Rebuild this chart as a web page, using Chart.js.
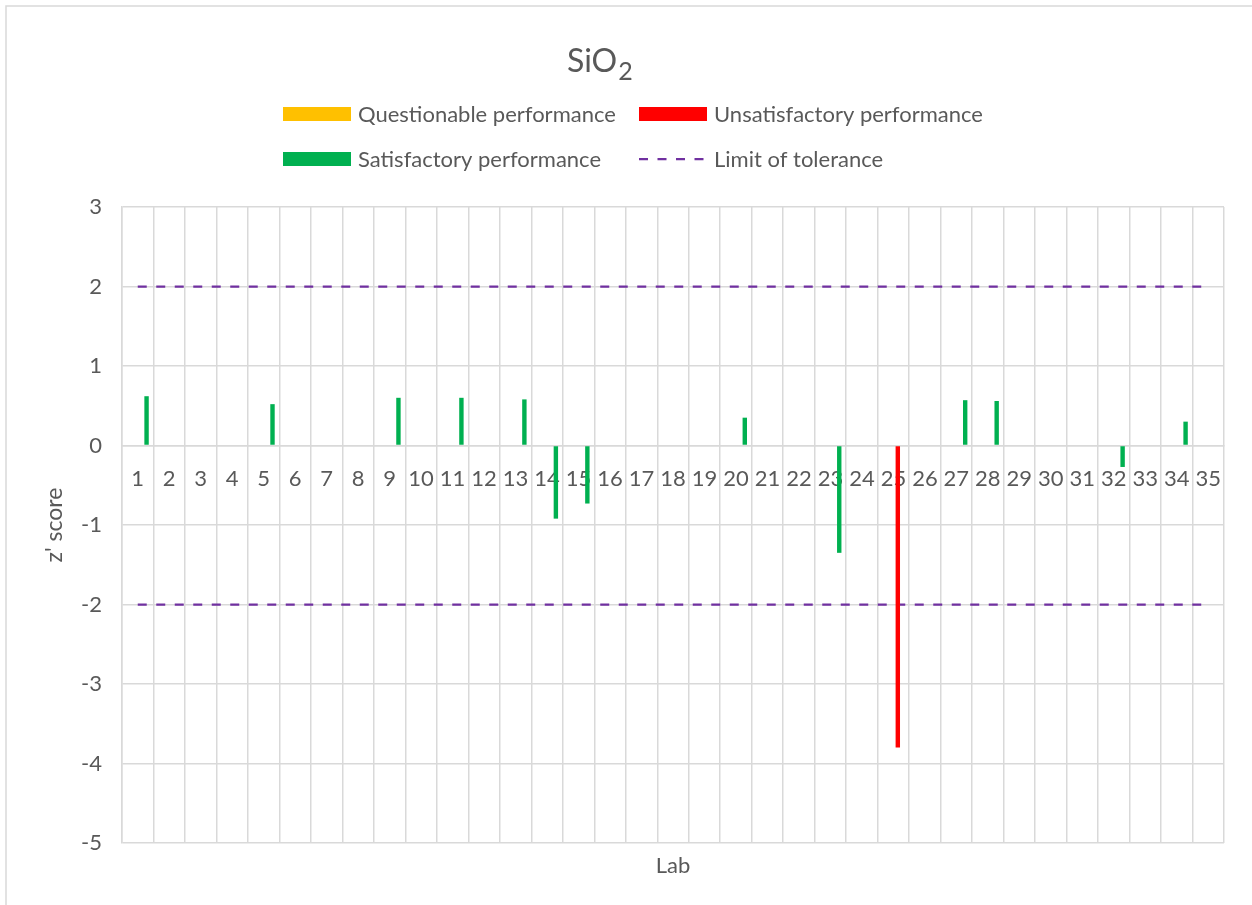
<!DOCTYPE html>
<html>
<head>
<meta charset="utf-8">
<title>SiO2 z' scores</title>
<script src="https://cdn.jsdelivr.net/npm/chart.js@4.4.0/dist/chart.umd.min.js"></script>
<style>
  body { margin: 0; background: #fff; }
  #wrap { width: 1252px; height: 905px; }
</style>
</head>
<body>
<div id="wrap"><canvas id="myChart" width="1252" height="905"></canvas></div>
<script>
// lab numbers on the x axis
var labs = ['1','2','3','4','5','6','7','8','9','10','11','12','13','14','15','16','17','18',
            '19','20','21','22','23','24','25','26','27','28','29','30','31','32','33','34','35'];

// z' scores, one per lab (null = no bar in that series)
var questionable = [null,null,null,null,null,null,null,null,null,null,null,null,null,null,null,null,null,null,
                    null,null,null,null,null,null,null,null,null,null,null,null,null,null,null,null,null];
var unsatisfactory = [null,null,null,null,null,null,null,null,null,null,null,null,null,null,null,null,null,null,
                      null,null,null,null,null,null,-3.80,null,null,null,null,null,null,null,null,null,null];
var satisfactory = [0.62,null,null,null,0.52,null,null,null,0.60,null,0.60,null,0.58,-0.92,-0.73,null,null,null,
                    null,0.35,null,null,-1.35,null,null,null,0.57,0.56,null,null,null,-0.27,null,0.30,null];
var upperLimit = [2,2,2,2,2,2,2,2,2,2,2,2,2,2,2,2,2,2,2,2,2,2,2,2,2,2,2,2,2,2,2,2,2,2,2];
var lowerLimit = [-2,-2,-2,-2,-2,-2,-2,-2,-2,-2,-2,-2,-2,-2,-2,-2,-2,-2,-2,-2,-2,-2,-2,-2,-2,-2,-2,-2,-2,-2,-2,-2,-2,-2,-2];

var yTicks = [3, 2, 1, 0, -1, -2, -3, -4, -5];

var FONT = 'Lato';
var TEXT = '#595959';
var GRID = '#d9d9d9';
var LIMIT = '#7030A0';

document.addEventListener("DOMContentLoaded", main);

function main(){
  renderChart();
}

// frame, title, legend and axis titles laid out like the Excel original
var excelLook = {
  id: 'excelLook',
  beforeDraw: function(chart){
    var ctx = chart.ctx;
    ctx.save();
    ctx.strokeStyle = GRID;
    ctx.lineWidth = 1.5;
    ctx.beginPath();
    ctx.moveTo(6, 905);
    ctx.lineTo(6, 6);
    ctx.lineTo(1252, 6);
    ctx.stroke();
    ctx.restore();
  },
  afterDraw: function(chart){
    var ctx = chart.ctx;
    var area = chart.chartArea;
    ctx.save();
    ctx.fillStyle = TEXT;

    // title SiO2 with subscript
    ctx.textBaseline = 'alphabetic';
    ctx.textAlign = 'left';
    ctx.font = '32px ' + FONT;
    ctx.fillText('SiO', 567, 72);
    var w = ctx.measureText('SiO').width;
    ctx.font = '25px ' + FONT;
    ctx.fillText('2', 567 + w + 1, 80);

    // legend, two columns
    var ds = chart.data.datasets;
    var items = [ds[2], ds[3], ds[4], ds[5]];
    var cols = [283, 639];
    var rows = [114, 159];
    ctx.font = '22px ' + FONT;
    ctx.textBaseline = 'middle';
    for (var i = 0; i < items.length; i++) {
      var x = cols[i % 2];
      var y = rows[Math.floor(i / 2)];
      if (items[i].type === 'line') {
        ctx.save();
        ctx.strokeStyle = items[i].borderColor;
        ctx.lineWidth = items[i].borderWidth;
        ctx.setLineDash(items[i].borderDash);
        ctx.beginPath();
        ctx.moveTo(x, y);
        ctx.lineTo(x + 67, y);
        ctx.stroke();
        ctx.restore();
      } else {
        ctx.fillStyle = items[i].backgroundColor;
        ctx.fillRect(x, y - 7, 68, 14);
      }
      ctx.fillStyle = TEXT;
      ctx.fillText(items[i].label, x + 75, y + 1);
    }

    // axis titles
    ctx.textAlign = 'center';
    ctx.fillText('Lab', (area.left + area.right) / 2, 866);
    ctx.translate(55, (area.top + area.bottom) / 2);
    ctx.rotate(-Math.PI / 2);
    ctx.font = '23px ' + FONT;
    ctx.fillText("z' score", 0, 0);
    ctx.restore();
  }
};

function renderChart() {
  var ctx = document.getElementById("myChart").getContext('2d');
  var myChart = new Chart(ctx, {
    type: 'bar',
    data: {
      labels: labs,
      datasets: [
        // two empty series that only hold their place in each group, as in the workbook
        { label: '', data: [], backgroundColor: 'rgba(0,0,0,0)', order: 1 },
        { label: '', data: [], backgroundColor: 'rgba(0,0,0,0)', order: 1 },
        { label: 'Questionable performance', data: questionable, backgroundColor: '#FFC000', order: 1 },
        { label: 'Unsatisfactory performance', data: unsatisfactory, backgroundColor: '#FF0000', order: 1 },
        { label: 'Satisfactory performance', data: satisfactory, backgroundColor: '#00B050', order: 1 },
        { type: 'line', label: 'Limit of tolerance', data: upperLimit, borderColor: LIMIT,
          borderWidth: 2.25, borderDash: [9, 9.5], pointRadius: 0, fill: false, order: 2 },
        { type: 'line', label: 'Limit of tolerance', data: lowerLimit, borderColor: LIMIT,
          borderWidth: 2.25, borderDash: [9, 9.5], pointRadius: 0, fill: false, order: 2 }
      ]
    },
    options: {
      responsive: false,
      animation: false,
      layout: { padding: { top: 207, right: 28, bottom: 62, left: 0 } },
      datasets: { bar: { categoryPercentage: 0.7, barPercentage: 1.0 } },
      plugins: {
        legend: { display: false },
        title: { display: false },
        tooltip: { enabled: false }
      },
      scales: {
        x: {
          position: { y: 0 },
          offset: true,
          grid: { offset: true, color: GRID, lineWidth: 1.5, drawTicks: false },
          border: { color: GRID, width: 1.5 },
          ticks: {
            autoSkip: false, maxRotation: 0, minRotation: 0, padding: 20,
            color: TEXT, font: { family: FONT, size: 22 }
          }
        },
        y: {
          min: -5,
          max: 3,
          afterFit: function(scale){ scale.width = 122; },
          afterBuildTicks: function(scale){
            scale.ticks = yTicks.map(function(v){ return { value: v }; });
          },
          grid: { color: GRID, lineWidth: 1.5, drawTicks: false },
          border: { color: GRID, width: 1.5 },
          ticks: { padding: 20, color: TEXT, font: { family: FONT, size: 22 } }
        }
      }
    },
    plugins: [excelLook]
  });
}
</script>
</body>
</html>
